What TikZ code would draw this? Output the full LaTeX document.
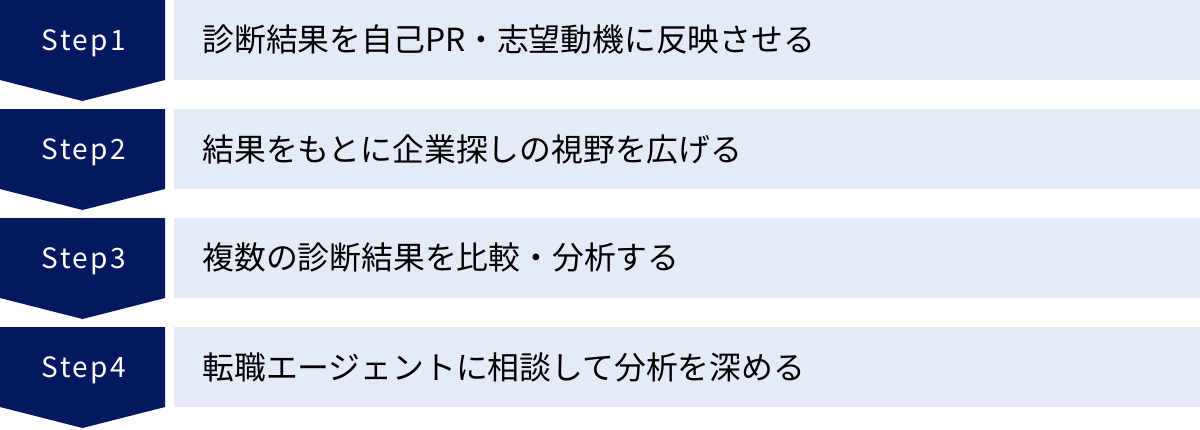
\documentclass[tikz,border=0pt]{standalone}
\usepackage{fontspec}
\newfontfamily\jpfont{Noto Sans CJK JP}
\newfontfamily\stepfont[LetterSpace=9]{Noto Sans CJK JP}
\usepackage{tikz}
\definecolor{navy}{RGB}{4,24,96}
\definecolor{paleblue}{RGB}{229,234,248}
\tikzset{
	stepbadge/.style={
		fill = navy,
		draw = none
	},
	stepbar/.style={
		fill = paleblue,
		draw = none
	},
	steplabel/.style={
		text = white,
		inner sep = 0pt,
		font = \stepfont\fontsize{14}{16}\selectfont
	},
	steptext/.style={
		anchor = west,
		inner sep = 0pt,
		font = \jpfont\fontsize{15.9}{18}\selectfont
	},
}

\begin{document}
\begin{tikzpicture}[x=0.5pt, y=-0.5pt]
    \useasboundingbox (0,0) rectangle (1200,429);
    \foreach \i/\txt [evaluate=\i as \y using (\i-1)*109] in {
      1/{診断結果を自己PR・志望動機に反映させる},
      2/{結果をもとに企業探しの視野を広げる},
      3/{複数の診断結果を比較・分析する},
      4/{転職エージェントに相談して分析を深める}}{
      \fill[stepbadge] (0,\y) -- (165,\y) -- (165,\y+80) -- (82.5,\y+101) -- (0,\y+80) -- cycle;
      \fill[stepbar] (174,\y) rectangle (1200,\y+80);
      \node[steplabel] (s\i) at (84,\y+43) {Step\i};
      \node[steptext] (t\i) at (202,\y+40) {\txt};
    }
  \end{tikzpicture}
\end{document}
